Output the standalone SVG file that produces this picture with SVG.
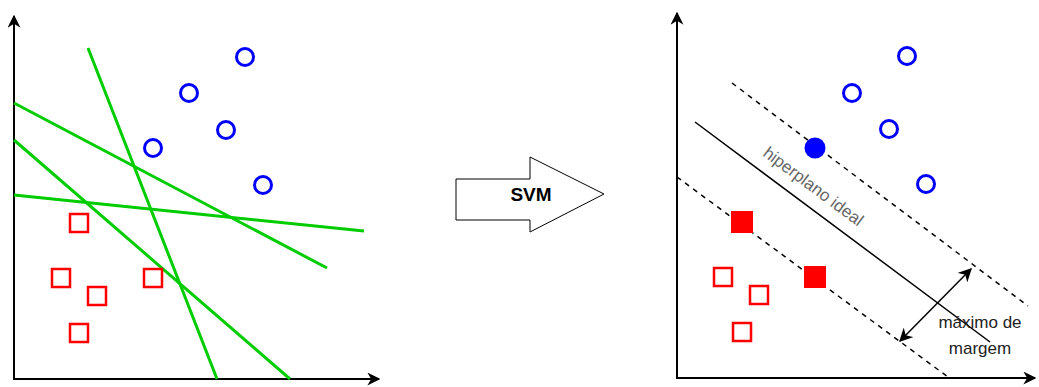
<svg xmlns="http://www.w3.org/2000/svg" width="1039" height="387" viewBox="0 0 1039 387">
  <style>
    .axis { stroke: #000; stroke-width: 2; fill: none; }
    .sep { stroke: #00cc00; stroke-width: 3; fill: none; }
    .pos { fill: none; stroke: #0000ff; stroke-width: 3; }
    .neg { fill: none; stroke: #ff0000; stroke-width: 2.5; }
    .sv-pos { fill: #0000ff; }
    .sv-neg { fill: #ff0000; }
    .margin { stroke: #000; stroke-width: 1.5; stroke-dasharray: 5 5; fill: none; }
    .hyper { stroke: #000; stroke-width: 1.5; fill: none; }
    .lbl { font-family: "Liberation Sans", Arial, sans-serif; }
  </style>
  <defs>
    <marker id="axisHead" viewBox="0 0 10 10" refX="9" refY="5" markerWidth="6.5" markerHeight="6.5" orient="auto-start-reverse" markerUnits="strokeWidth">
      <path d="M0,0 L10,5 L0,10 L3,5 Z" fill="#000"/>
    </marker>
    <marker id="dimHead" viewBox="0 0 10 10" refX="9" refY="5" markerWidth="9" markerHeight="9" orient="auto-start-reverse" markerUnits="strokeWidth">
      <path d="M0,0 L10,5 L0,10 L3,5 Z" fill="#000"/>
    </marker>
  </defs>

  <!-- left plot: several candidate separators -->
  <g id="left-axes">
    <polyline class="axis" points="14,16 14,379 379,379" marker-start="url(#axisHead)" marker-end="url(#axisHead)"/>
  </g>
  <g id="left-separators">
    <line class="sep" x1="88" y1="48" x2="217" y2="379"/>
    <line class="sep" x1="14" y1="103" x2="327" y2="268"/>
    <line class="sep" x1="14" y1="140" x2="290" y2="379"/>
    <line class="sep" x1="14" y1="195" x2="364" y2="231"/>
  </g>
  <g id="left-class-a">
    <circle class="pos" cx="245" cy="57" r="8.5"/>
    <circle class="pos" cx="189" cy="93" r="8.5"/>
    <circle class="pos" cx="226" cy="130" r="8.5"/>
    <circle class="pos" cx="153" cy="148" r="8.5"/>
    <circle class="pos" cx="263" cy="185" r="8.5"/>
  </g>
  <g id="left-class-b">
    <rect class="neg" x="70" y="214" width="18" height="18"/>
    <rect class="neg" x="52" y="269" width="18" height="18"/>
    <rect class="neg" x="88" y="287" width="18" height="18"/>
    <rect class="neg" x="144" y="269" width="18" height="18"/>
    <rect class="neg" x="70" y="324" width="18" height="18"/>
  </g>

  <!-- transition arrow -->
  <g id="svm-arrow">
    <polygon points="456,179 530,179 530,157 604,194 530,232 530,220 456,220" fill="#fff" stroke="#000" stroke-width="1"/>
    <text class="lbl" x="531" y="201" font-size="19" font-weight="bold" text-anchor="middle" fill="#000">SVM</text>
  </g>

  <!-- right plot: optimal hyperplane with margins -->
  <g id="right-axes">
    <polyline class="axis" points="677,13 677,378 1035,378" marker-start="url(#axisHead)" marker-end="url(#axisHead)"/>
  </g>
  <g id="connectors">
    <line class="margin" x1="732" y1="83" x2="1028" y2="306"/>
    <line class="hyper" x1="695" y1="122" x2="990" y2="342"/>
    <line class="margin" x1="677" y1="177" x2="948" y2="377"/>
    <line class="hyper" x1="900" y1="341" x2="971" y2="269" marker-start="url(#dimHead)" marker-end="url(#dimHead)"/>
  </g>
  <g id="right-class-a">
    <circle class="pos" cx="907" cy="56" r="8.5"/>
    <circle class="pos" cx="852" cy="93" r="8.5"/>
    <circle class="pos" cx="889" cy="129" r="8.5"/>
    <circle class="pos" cx="926" cy="184" r="8.5"/>
    <circle class="sv-pos" cx="815" cy="148" r="10.5"/>
  </g>
  <g id="right-class-b">
    <rect class="sv-neg" x="731" y="211" width="22" height="22"/>
    <rect class="sv-neg" x="804" y="266" width="22" height="22"/>
    <rect class="neg" x="714" y="268" width="18" height="18"/>
    <rect class="neg" x="750" y="286" width="18" height="18"/>
    <rect class="neg" x="733" y="323" width="18" height="18"/>
  </g>
  <g id="hyperplane-label">
    <text class="lbl" x="813" y="192" font-size="17" fill="#666" text-anchor="middle" transform="rotate(36.7 813 187)">hiperplano ideal</text>
  </g>
  <g id="margin-label">
    <text class="lbl" x="980" y="328" font-size="17" fill="#222" text-anchor="middle">máximo de</text>
    <text class="lbl" x="980" y="354" font-size="17" fill="#222" text-anchor="middle">margem</text>
  </g>
</svg>
